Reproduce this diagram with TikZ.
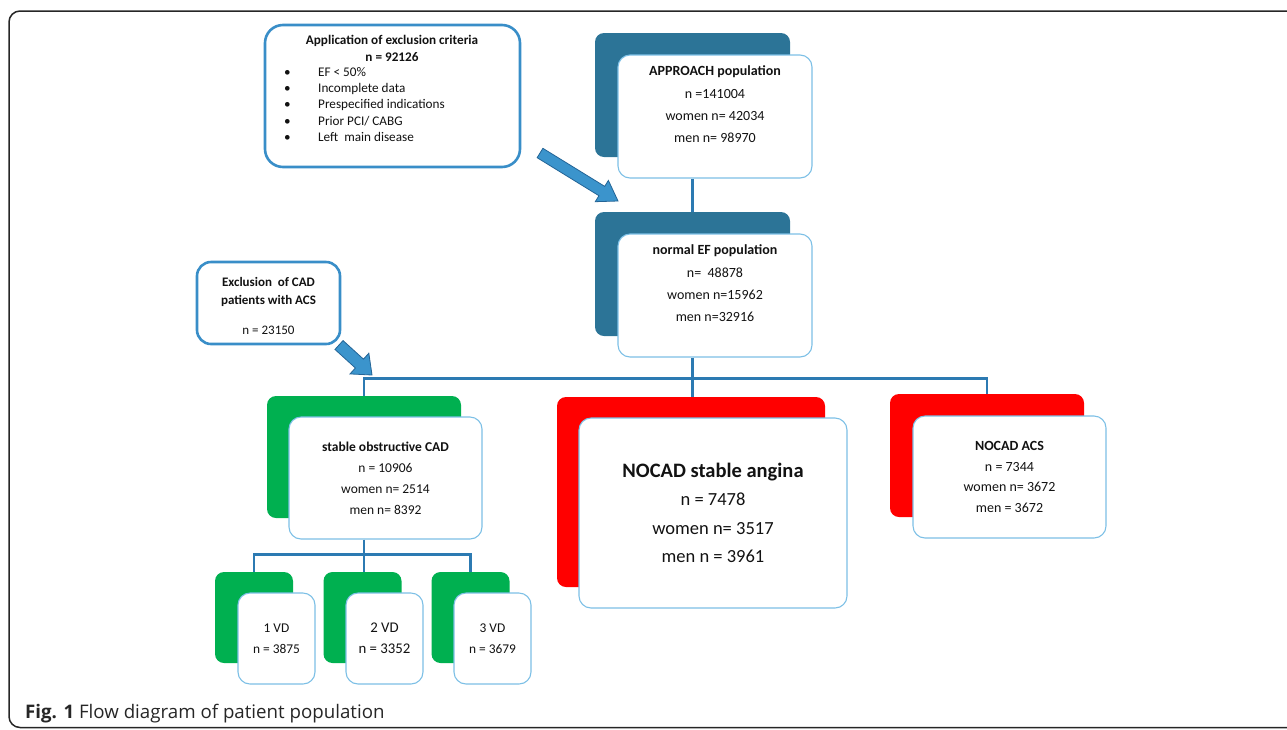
\documentclass[tikz,border=0pt]{standalone}
\usepackage{fontspec}
\setmainfont{Carlito}
\newfontfamily\capfont{Open Sans}
\usetikzlibrary{calc, positioning}
\definecolor{popblue}{RGB}{44,116,151}
\definecolor{cadgreen}{RGB}{0,176,80}
\definecolor{nocadred}{RGB}{255,0,0}
\definecolor{edgeblue}{RGB}{125,192,230}
\definecolor{exclblue}{RGB}{57,142,200}
\definecolor{linkblue}{RGB}{44,122,178}
\definecolor{arrowfill}{RGB}{59,148,204}
\definecolor{arrowedge}{RGB}{35,100,150}
\tikzstyle{back} = [rectangle, rounded corners=9pt, inner sep=0pt, minimum width=195pt, minimum height=124pt]
\tikzstyle{front} = [rectangle, rounded corners=12pt, draw=edgeblue, line width=1.1pt, fill=white, inner sep=0pt, align=center, text=black!93, minimum width=194pt, minimum height=123pt]
\tikzstyle{excl} = [rectangle, rounded corners=18pt, draw=exclblue, line width=2.6pt, fill=white, inner sep=0pt]
\tikzstyle{boxtext} = [align=center, text=black!93, inner sep=0pt]
\tikzstyle{link} = [draw=linkblue, line width=2.8pt]
\tikzstyle{fatarrow} = [fill=arrowfill, draw=arrowedge, line width=0.8pt, line join=miter]
% tail, tip, shaft half width, head half width, head length
\newcommand{\blockarrow}[5]{
	\coordinate (#1Head) at ($(#2)!#5!(#1)$);
	\path[fatarrow] ($(#1)!#3!90:(#2)$) -- ($(#1Head)!#3!-90:(#1)$) -- ($(#1Head)!#4!-90:(#1)$) -- (#2)
		-- ($(#1Head)!#4!90:(#1)$) -- ($(#1Head)!#3!90:(#1)$) -- ($(#1)!#3!-90:(#2)$) -- cycle;
}

\begin{document}
\begin{tikzpicture}[x=1pt, y=-1pt]
	\useasboundingbox (0,0) rectangle (1287,729);
	\clip (0,0) rectangle (1287,729);
	\draw[black!85, line width=1.5pt, rounded corners=11pt] (9,11) rectangle (1340,727.5);
	\node[excl, minimum width=255pt, minimum height=142pt] (Criteria) at (392.5,96) {};
	\node[boxtext, font=\fontsize{13.2}{17}\selectfont\bfseries] (CriteriaTitle) at (392,48.5) {Application of exclusion criteria\\n = 92126};
	\node[boxtext, anchor=west, font=\fontsize{13.2}{16.25}\selectfont] (CriteriaList) at (284,105.5) {\begin{tabular}{@{}p{34pt}@{}l@{}}
		\textbullet & EF < 50\% \\ \textbullet & Incomplete data \\ \textbullet & Prespecified indications \\ \textbullet & Prior PCI/ CABG \\ \textbullet & Left\ \ main disease
	\end{tabular}};
	\node[back, fill=popblue] (ApproachBack) at (692.5,95) {};
	\node[front] (Approach) at ([xshift=22.5pt, yshift=-21.5pt]ApproachBack.center) {};
	\node[boxtext, font=\fontsize{14}{22.3}\selectfont] (ApproachText) at ([yshift=12pt]Approach.center) {\textbf{APPROACH population}\\n =141004\\women n= 42034\\men n= 98970};
	\node[back, fill=popblue] (NormalBack) at (692.5,274) {};
	\node[front] (Normal) at ([xshift=22.5pt, yshift=-21.5pt]NormalBack.center) {};
	\node[boxtext, font=\fontsize{14}{22.3}\selectfont] (NormalText) at ([yshift=12pt]Normal.center) {\textbf{normal EF population}\\n=\ \ 48878\\women n=15962\\men n=32916};
	\node[excl, rounded corners=14pt, minimum width=143pt, minimum height=82pt] (ExclCad) at (268.5,303) {};
	\node[boxtext, font=\fontsize{13}{18}\selectfont] (ExclCadText) at (268.5,306) {\textbf{Exclusion\ \ of CAD}\\\textbf{patients with ACS}\\[12pt]n = 23150};
	\node[back, fill=cadgreen, minimum width=194pt, minimum height=122pt] (StableBack) at (364,457) {};
	\node[front, minimum width=193pt, minimum height=122pt, font=\fontsize{13.5}{21}\selectfont] (Stable) at ([xshift=21.5pt, yshift=-21pt]StableBack.center) {\textbf{stable obstructive CAD}\\n = 10906\\women n= 2514\\men n= 8392};
	\node[back, fill=nocadred, minimum width=268pt, minimum height=190pt] (AnginaBack) at (691,492) {};
	\node[front, minimum width=268pt, minimum height=190pt, font=\fontsize{18.5}{28.5}\selectfont] (Angina) at ([xshift=22pt, yshift=-21pt]AnginaBack.center) {{\fontsize{20.5}{28.5}\selectfont\bfseries NOCAD stable angina}\\n = 7478\\women n= 3517\\men n = 3961};
	\node[back, fill=nocadred, minimum width=194pt, minimum height=123pt] (AcsBack) at (987,455.5) {};
	\node[front, minimum width=193pt, minimum height=122pt, font=\fontsize{14}{20.7}\selectfont] (Acs) at ([xshift=22.5pt, yshift=-21.5pt]AcsBack.center) {\textbf{NOCAD ACS}\\n = 7344\\women n= 3672\\men = 3672};
	\node[back, fill=cadgreen, minimum width=78pt, minimum height=91pt] (VdOneBack) at (254,617.5) {};
	\node[front, minimum width=77pt, minimum height=91pt, font=\fontsize{13.4}{21}\selectfont] (VdOne) at ([xshift=22.5pt, yshift=-21pt]VdOneBack.center) {1 VD\\n = 3875};
	\node[back, fill=cadgreen, minimum width=78pt, minimum height=91pt] (VdTwoBack) at (362.5,617.5) {};
	\node[front, minimum width=77pt, minimum height=91pt, font=\fontsize{14.8}{21}\selectfont] (VdTwo) at ([xshift=22pt, yshift=-21pt]VdTwoBack.center) {2 VD\\n = 3352};
	\node[back, fill=cadgreen, minimum width=78pt, minimum height=91pt] (VdThreeBack) at (470.5,617.5) {};
	\node[front, minimum width=77pt, minimum height=91pt, font=\fontsize{13.4}{21}\selectfont] (VdThree) at ([xshift=22pt, yshift=-21pt]VdThreeBack.center) {3 VD\\n = 3679};
	\draw[link] (ApproachBack.center |- Approach.south) -- (NormalBack.north);
	\draw[link] (NormalBack.center |- Normal.south) -- ++(0,21) coordinate (Bus);
	\draw[link] (StableBack.north) |- (Bus) -| (AcsBack.north);
	\draw[link] (Bus) -- (Bus |- AnginaBack.north);
	\draw[link] (StableBack.center |- Stable.south) -- ++(0,15) coordinate (VdBus);
	\draw[link] (VdOneBack.north) |- (VdBus) -| (VdThreeBack.north);
	\draw[link] (VdBus) -- (VdBus |- VdTwoBack.north);
	\coordinate (CriteriaTail) at (540,153);
	\coordinate (CriteriaTip) at (618,201);
	\blockarrow{CriteriaTail}{CriteriaTip}{5.5pt}{12.5pt}{19pt}
	\coordinate (ExclCadTail) at (339,345);
	\coordinate (ExclCadTip) at (372,375);
	\blockarrow{ExclCadTail}{ExclCadTip}{6pt}{14pt}{17pt}
	\node[anchor=base west, inner sep=0pt, text=black!85, font=\capfont\fontsize{18.7}{21}\selectfont] (Caption) at (25,718) {\textbf{Fig. 1} Flow diagram of patient population};
\end{tikzpicture}
\end{document}
